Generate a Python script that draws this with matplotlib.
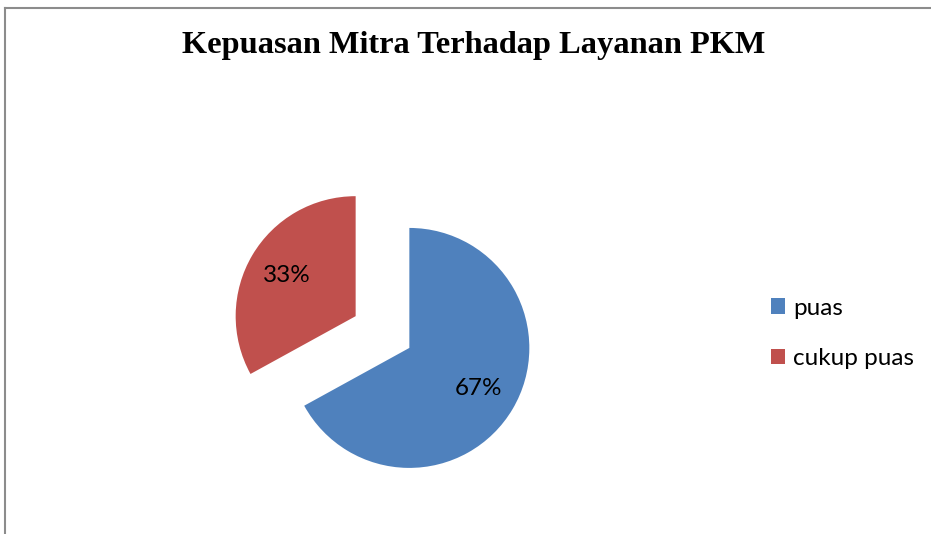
"""
Pie chart: Kepuasan Mitra Terhadap Layanan PKM
"""

import matplotlib.pyplot as plt
from matplotlib.lines import Line2D

title = "Kepuasan Mitra Terhadap Layanan PKM"
labels = ["puas", "cukup puas"]
values = [67, 33]
colors = ["#4F81BD", "#C0504D"]
explode = [0.26, 0.26]

plt.rcParams["font.family"] = ["Lato", "DejaVu Sans"]

fig = plt.figure(figsize=(9.31, 5.34), dpi=100)
ax = fig.add_axes([0.2046, 0.0187, 0.4125, 0.719])

wedges, texts, autotexts = ax.pie(
    values,
    colors=colors,
    explode=explode,
    startangle=90,
    counterclock=False,
    autopct="%1.0f%%",
    pctdistance=0.67,
    textprops={"fontsize": 17.5, "color": "black"},
)
ax.set_xlim(-1.6, 1.6)
ax.set_ylim(-1.6, 1.6)
ax.set_aspect("equal")
ax.axis("off")

fig.text(0.509, 0.914, title, ha="center", va="center",
         fontsize=23.3, fontweight="bold", family="Liberation Serif")

fig.legend(wedges, labels, loc="center left", bbox_to_anchor=(0.805, 0.376),
           frameon=False, fontsize=17.5, handlelength=0.58, handleheight=0.58,
           handletextpad=0.33, labelspacing=1.2)

# chart frame (only top and left edges visible in the original)
fig.add_artist(Line2D([5 / 931, 1], [1 - 8 / 534, 1 - 8 / 534],
                      color="#8c8c8c", lw=1.5, transform=fig.transFigure))
fig.add_artist(Line2D([5 / 931, 5 / 931], [0, 1 - 8 / 534],
                      color="#8c8c8c", lw=1.5, transform=fig.transFigure))

fig.savefig("out.png", dpi=100)
